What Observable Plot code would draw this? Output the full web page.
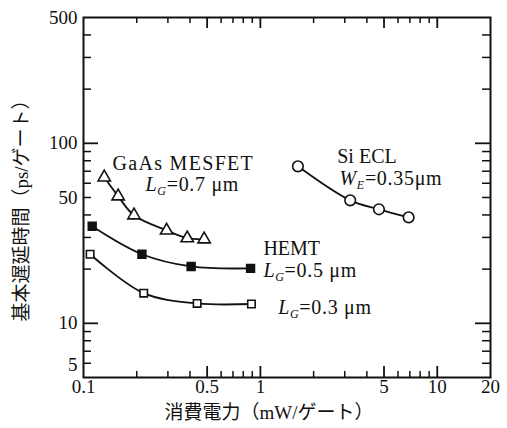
<!DOCTYPE html>
<html><head><meta charset="utf-8">
<script src="https://cdn.jsdelivr.net/npm/d3@7"></script>
<script src="https://cdn.jsdelivr.net/npm/@observablehq/plot@0.6"></script>
<style>body{margin:0;background:#fff}</style>
</head><body><div id="chart"></div>
<script>
// Data (power mW/gate, delay ps/gate)
const mesfetX = [0.131, 0.157, 0.193, 0.295, 0.386, 0.481];
const mesfetY = [64.7, 50.8, 39.8, 32.8, 29.7, 29.3];
const hemt05X = [0.112, 0.214, 0.406, 0.88];
const hemt05Y = [34.6, 24.2, 20.7, 20.2];
const hemt03X = [0.109, 0.219, 0.439, 0.89];
const hemt03Y = [24.2, 14.7, 12.9, 12.8];
const eclX = [1.63, 3.22, 4.68, 6.89];
const eclY = [74.5, 48.2, 43.0, 38.8];

// Ticks
const xTickLabels = [0.1, 0.5, 1, 5, 10, 20];
const yTickLabels = [10, 50, 100, 500];
const yBottomLabel = [5];
const xMajor = [0.5, 1, 5, 10];
const xMinor = [0.2, 0.3, 0.4, 0.6, 0.7, 0.8, 0.9, 2, 3, 4, 6, 7, 8, 9];
const yMajor = [10, 100];
const yMinor = [6, 7, 8, 9, 20, 30, 40, 50, 60, 70, 80, 90, 200, 300, 400];

// Annotations
const labelTexts = ["GaAs MESFET", "L_G=0.7 μm", "Si ECL", "W_E=0.35μm", "HEMT", "L_G=0.5 μm", "L_G=0.3 μm"];
const labelX = [0.146, 0.224, 2.72, 2.80, 1.04, 1.04, 1.26];
const labelY = [77.3, 59, 84.5, 63.7, 26, 19.6, 12.2];

const xTitle = "消費電力（mW/ゲート）";
const yTitle = "基本遅延時間（ps/ゲート）";

const toPts = (xs, ys) => xs.map((x, i) => ({x, y: ys[i]}));
const mesfet = toPts(mesfetX, mesfetY);
const hemt05 = toPts(hemt05X, hemt05Y);
const hemt03 = toPts(hemt03X, hemt03Y);
const ecl = toPts(eclX, eclY);

const W = 507, H = 428, ML = 83, MR = 17, MT = 17, MB = 51;
const IW = W - ML - MR, IH = H - MT - MB;

const lineOpts = {x: "x", y: "y", curve: "catmull-rom", stroke: "#111", strokeWidth: 1.8};
const dotOpts = {x: "x", y: "y", stroke: "#111", strokeWidth: 1.6, fill: "#fff"};
const xTicks = (vals, len, w) => [
  Plot.tickX(vals, {x: d => d, insetTop: IH - len, stroke: "#111", strokeWidth: w}),
  Plot.tickX(vals, {x: d => d, insetBottom: IH - len, stroke: "#111", strokeWidth: w})
];
const yTicks = (vals, len, w) => [
  Plot.tickY(vals, {y: d => d, insetRight: IW - len, stroke: "#111", strokeWidth: w}),
  Plot.tickY(vals, {y: d => d, insetLeft: IW - len, stroke: "#111", strokeWidth: w})
];

const chart = Plot.plot({
  width: W, height: H,
  marginLeft: ML, marginRight: MR, marginTop: MT, marginBottom: MB,
  style: {fontFamily: "'Liberation Serif', 'Noto Sans CJK JP', serif", fontSize: "19px", color: "#111", background: "#fff"},
  x: {type: "log", domain: [0.1, 20], axis: null},
  y: {type: "log", domain: [5, 500], axis: null},
  marks: [
    ...xTicks(xMinor, 6, 1.5),
    ...xTicks(xMajor, 11, 1.8),
    ...yTicks(yMinor, 8, 1.5),
    ...yTicks(yMajor, 15, 1.8),
    // tick labels
    Plot.text(xTickLabels, {x: d => d, frameAnchor: "bottom", dy: 15, text: d => String(d), fontSize: 19, fill: "#111"}),
    Plot.text(yTickLabels, {y: d => d, frameAnchor: "left", dx: -6, textAnchor: "end", text: d => String(d), fontSize: 19, fill: "#111"}),
    Plot.text(yBottomLabel, {y: d => d, frameAnchor: "left", dx: -6, dy: -13, textAnchor: "end", text: d => String(d), fontSize: 19, fill: "#111"}),
    Plot.frame({stroke: "#111", strokeWidth: 2}),
    // curves
    Plot.line(mesfet, lineOpts),
    Plot.line(hemt05, lineOpts),
    Plot.line(hemt03, lineOpts),
    Plot.line(ecl, lineOpts),
    Plot.dot(mesfet, {...dotOpts, symbol: "triangle", r: 4.6}),
    Plot.dot(hemt05, {...dotOpts, symbol: "square", r: 4.4, fill: "#111"}),
    Plot.dot(hemt03, {...dotOpts, symbol: "square", r: 4.2}),
    Plot.dot(ecl, {...dotOpts, symbol: "circle", r: 5.3}),
    // annotations
    Plot.text(labelTexts, {x: (d, i) => labelX[i], y: (d, i) => labelY[i], text: d => d,
      textAnchor: "start", fontSize: 20, fill: "#111", className: "annot"}),
    // x axis title
    Plot.text([xTitle], {frameAnchor: "bottom", dy: 41, dx: -18, text: d => d, fontSize: 19, fill: "#111"})
  ]
});

const ns = "http://www.w3.org/2000/svg";
// Render subscripts (L_G, W_E) as real tspans
chart.querySelectorAll("g.annot text").forEach(t => {
  const s = t.textContent;
  if (s === "GaAs MESFET") t.setAttribute("letter-spacing", "1.3");
  const m = s.match(/^(.)_(.)(.*)$/);
  if (!m) return;
  t.setAttribute("letter-spacing", "0.7");
  t.textContent = "";
  const a = document.createElementNS(ns, "tspan");
  a.textContent = m[1]; a.setAttribute("font-style", "italic");
  const b = document.createElementNS(ns, "tspan");
  b.textContent = m[2]; b.setAttribute("font-style", "italic");
  b.setAttribute("font-size", "12"); b.setAttribute("dy", "4");
  const c = document.createElementNS(ns, "tspan");
  c.textContent = m[3]; c.setAttribute("dy", "-4");
  t.append(a, b, c);
});

// y axis title (rotated)
const yt = document.createElementNS(ns, "text");
yt.setAttribute("transform", `translate(24,${(MT + H - MB) / 2 + 9}) rotate(-90)`);
yt.setAttribute("text-anchor", "middle");
yt.setAttribute("dominant-baseline", "middle");
yt.setAttribute("font-size", "19");
yt.setAttribute("fill", "#111");
yt.textContent = yTitle;
chart.append(yt);

document.getElementById("chart").append(chart);
</script>
</body></html>
